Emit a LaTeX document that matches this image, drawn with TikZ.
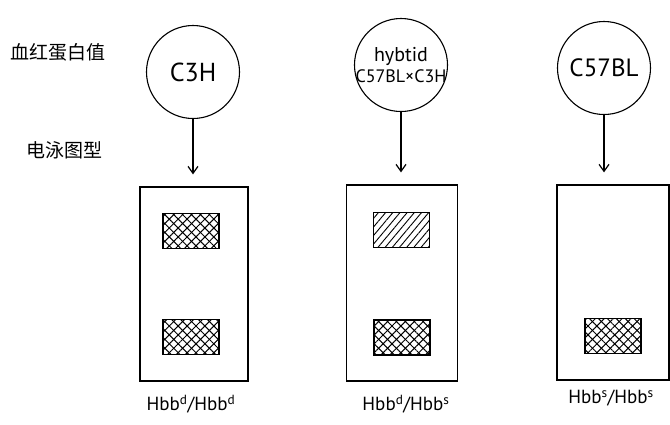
\documentclass[tikz,border=0pt]{standalone}
\usepackage{fontspec}
\setmainfont{PT Sans}
\newfontfamily\cjk{Noto Sans CJK SC}
\usetikzlibrary{shapes.geometric,arrows.meta,patterns.meta}
\begin{document}
\begin{tikzpicture}[x=1pt,y=-1pt,
  strain/.style={draw,circle,line width=1.1pt,minimum size=93pt,inner sep=0pt},
  gel/.style={draw,line width=1.3pt,inner sep=0pt},
  band/.style={draw,line width=1.1pt,minimum width=56pt,minimum height=35pt,inner sep=0pt},
  cross/.style={band,pattern={Lines[angle=45,distance=6.3pt,line width=1pt]},
    postaction={pattern={Lines[angle=-45,distance=6.3pt,line width=1pt]}}},
  slash/.style={band,pattern={Lines[angle=50,distance=5.5pt,line width=0.9pt]}},
  flow/.style={line width=1.3pt,-{Straight Barb[length=7pt,width=10pt,line width=1.2pt]}},
  lab/.style={font=\fontsize{19}{22}\selectfont},
  cn/.style={font=\cjk\fontsize{19}{22}\selectfont}]
\useasboundingbox (0,0) rectangle (670,424);
% left labels
\node[cn] (t1) at (58,52) {血红蛋白值};
\node[cn] (t2) at (65,150) {电泳图型};
% strains
\node[strain,label={[font=\fontsize{26}{28}\selectfont]center:C3H}] (s1) at (193,72) {};
\node[strain,label={[font=\fontsize{18}{22}\selectfont,align=center]center:{\fontsize{20}{22}\selectfont hybtid}\\[-1pt]C57BL×C3H}] (s2) at (401,65) {};
\node[strain,label={[font=\fontsize{25}{28}\selectfont]center:C57BL}] (s3) at (604,68) {};
% gels
\node[gel,minimum width=108pt,minimum height=194pt] (g1) at (194,284) {};
\node[gel,minimum width=111pt,minimum height=196pt] (g2) at (402,283) {};
\node[gel,minimum width=112pt,minimum height=195pt] (g3) at (613,282.5) {};
% arrows
\draw[flow] (s1.south) -- ([yshift=12pt]g1.north -| s1.south);
\draw[flow] (s2.south) -- ([yshift=12pt]g2.north -| s2.south);
\draw[flow] (s3.south) -- ([yshift=12pt]g3.north -| s3.south);
% bands
\node[cross] (b1a) at (191,231) {};
\node[cross] (b1b) at (191,337) {};
\node[slash] (b2a) at (401.5,230) {};
\node[cross] (b2b) at (402,337.5) {};
\node[cross] (b3b) at (613,336) {};
% genotype labels
\node[lab] (l1) at (191,404) {Hbb\textsuperscript{d}/Hbb\textsuperscript{d}};
\node[lab] (l2) at (406,404) {Hbb\textsuperscript{d}/Hbb\textsuperscript{s}};
\node[lab] (l3) at (611,398) {Hbb\textsuperscript{s}/Hbb\textsuperscript{s}};
\end{tikzpicture}
\end{document}
